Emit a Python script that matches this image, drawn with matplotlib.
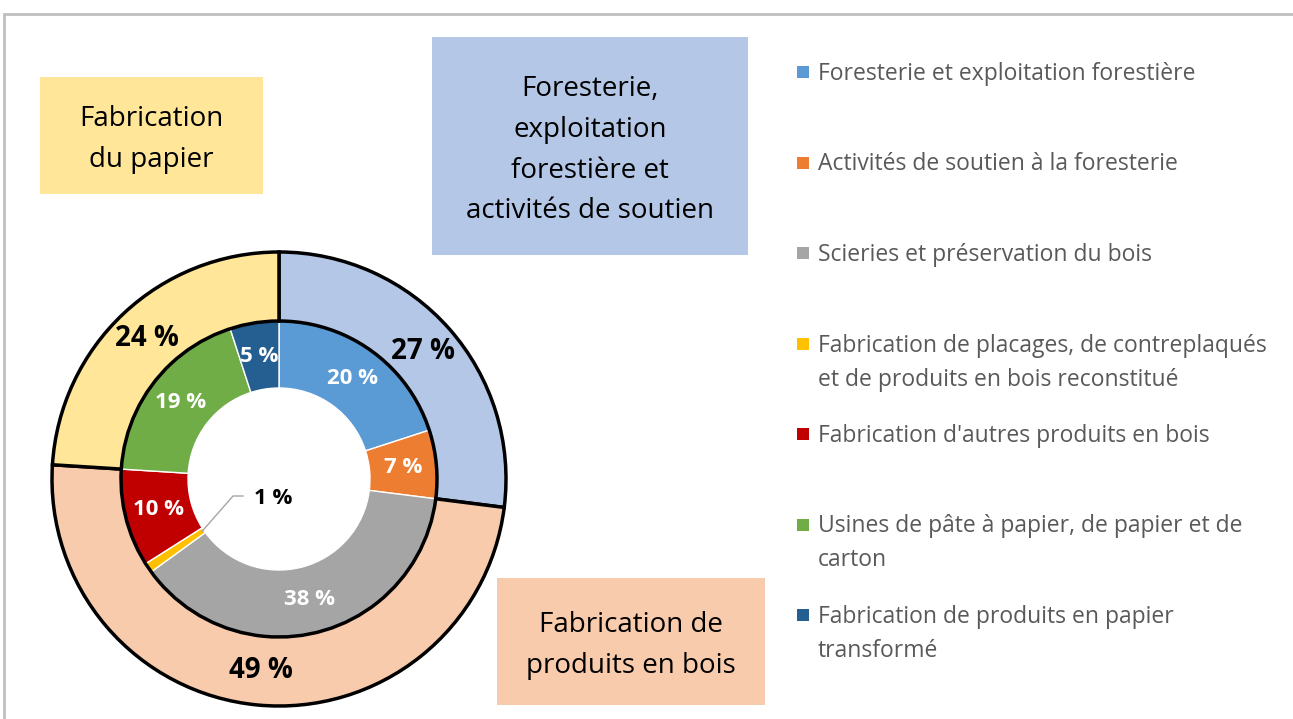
import matplotlib
matplotlib.use("Agg")
import matplotlib.pyplot as plt
from matplotlib.patches import Rectangle
import numpy as np

W, H = 1293, 719

# ---------------- data ----------------
outer_labels = ["Foresterie,\nexploitation\nforestière et\nactivités de soutien",
                "Fabrication de\nproduits en bois",
                "Fabrication\ndu papier"]
outer_values = [27, 49, 24]
outer_colors = ["#B4C7E7", "#F8CBAD", "#FFE699"]

inner_labels = ["Foresterie et exploitation forestière",
                "Activités de soutien à la foresterie",
                "Scieries et préservation du bois",
                "Fabrication de placages, de contreplaqués\net de produits en bois reconstitué",
                "Fabrication d'autres produits en bois",
                "Usines de pâte à papier, de papier et de\ncarton",
                "Fabrication de produits en papier\ntransformé"]
inner_values = [20, 7, 38, 1, 10, 19, 5]
inner_colors = ["#5B9BD5", "#ED7D31", "#A5A5A5", "#FFC000", "#C00000", "#70AD47", "#255E91"]

FONT = "Open Sans"
plt.rcParams['font.family'] = [FONT, 'DejaVu Sans']

fig = plt.figure(figsize=(W / 100, H / 100), dpi=100)
ax = fig.add_axes([0, 0, 1, 1])

def Y(y):
    return H - y

# frame border
ax.add_patch(Rectangle((4, Y(720)), 1400, 720 - 14, fill=False, edgecolor="#BFBFBF", linewidth=2, zorder=0))

cx, cy = 279, Y(479)
R_out, R_mid, R_in = 227, 158, 91

wi, _ = ax.pie(inner_values, colors=inner_colors, startangle=90, counterclock=False,
               radius=R_mid, center=(cx, cy), frame=True,
               wedgeprops=dict(width=R_mid - R_in, edgecolor="white", linewidth=1))
wo, _ = ax.pie(outer_values, colors=outer_colors, startangle=90, counterclock=False,
               radius=R_out, center=(cx, cy), frame=True,
               wedgeprops=dict(width=R_out - R_mid, edgecolor="black", linewidth=2.5))
for w in wo:
    w.set_zorder(3)
for w in wi:
    w.set_zorder(2)

def mid_point(w, r):
    t = np.deg2rad((w.theta1 + w.theta2) / 2)
    return cx + r * np.cos(t), cy + r * np.sin(t)

# outer labels
for w, v in zip(wo, outer_values):
    x, y = mid_point(w, (R_out + R_mid) / 2)
    ax.text(x, y, f"{v} %", ha="center", va="center", fontsize=20, fontweight="bold",
            color="black", zorder=5)

# inner labels
for i, (w, v) in enumerate(zip(wi, inner_values)):
    if v <= 1:
        t = np.deg2rad((w.theta1 + w.theta2) / 2)
        x0, y0 = cx + (R_in + 2) * np.cos(t), cy + (R_in + 2) * np.sin(t)
        ax.plot([x0, 233, 243], [y0, Y(496), Y(496)], color="#A6A6A6", lw=1, zorder=5)
        ax.text(273, Y(498), f"{v} %", ha="center", va="center", fontsize=16,
                fontweight="bold", color="black", zorder=5)
        continue
    x, y = mid_point(w, (R_mid + R_in) / 2)
    ax.text(x, y, f"{v} %", ha="center", va="center", fontsize=16, fontweight="bold",
            color="white", zorder=5)

# group boxes
boxes = [(432, 37, 748, 255), (497, 578, 765, 705), (40, 77, 263, 194)]
line_sp = [41, 40, 40]
for (x0, y0, x1, y1), lab, col, ls in zip(boxes, outer_labels, outer_colors, line_sp):
    ax.add_patch(Rectangle((x0, Y(y1)), x1 - x0, y1 - y0, facecolor=col, edgecolor="none", zorder=1))
    lines = lab.split("\n")
    n = len(lines)
    ymid = (y0 + y1) / 2 + 4
    for k, ln in enumerate(lines):
        yy = ymid + (k - (n - 1) / 2) * ls
        ax.text((x0 + x1) / 2, Y(yy), ln, ha="center", va="center", fontsize=20,
                color="black", zorder=5)

# legend
leg_y0, leg_dy, leg_ls = 72, 90.5, 34
for i, (lab, col) in enumerate(zip(inner_labels, inner_colors)):
    yy = leg_y0 + i * leg_dy
    ax.add_patch(Rectangle((797, Y(yy + 6)), 12, 12, facecolor=col, edgecolor="none", zorder=5))
    for k, ln in enumerate(lab.split("\n")):
        ax.text(818, Y(yy + 2 + k * leg_ls), ln, ha="left", va="center", fontsize=16.5,
                color="#595959", zorder=5)

ax.set_xlim(0, W)
ax.set_ylim(0, H)
ax.set_aspect("equal")
ax.axis("off")

fig.savefig("out.png", dpi=100)
